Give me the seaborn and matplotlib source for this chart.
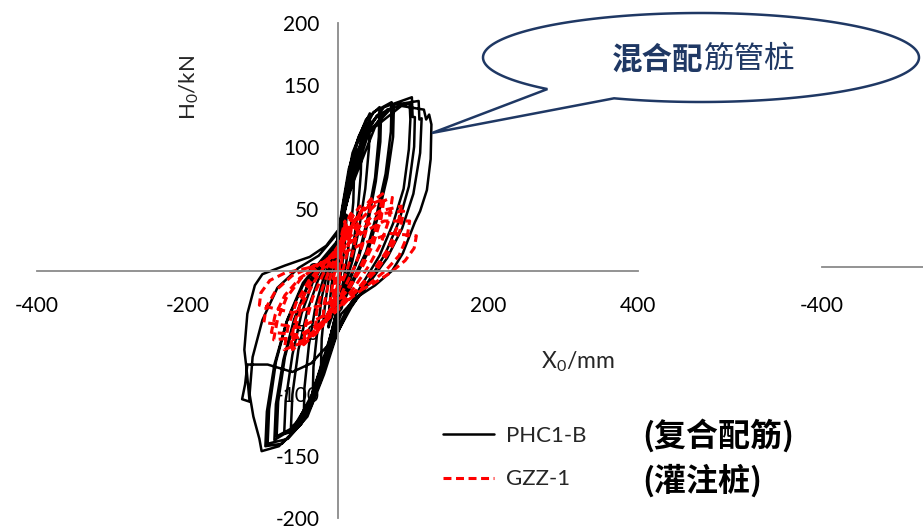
import numpy as np
import matplotlib
matplotlib.use("Agg")
import matplotlib.pyplot as plt
import seaborn as sns
from matplotlib.path import Path
from matplotlib.patches import PathPatch
from matplotlib.lines import Line2D

# ---- hysteresis records: lateral displacement X0 (mm) and lateral load H0 (kN) ----
# PHC1-B (hybrid-reinforced pipe pile), one line per loading cycle
phc_x = [
    0, 4, 8, 12, 11, 8, 5, 2, -2, -6, -10, -12, -11, -8, -5, -2, 2,
    8, 15, 22, 21, 17, 12, 8, 2, -5, -12, -18, -22, -21, -17, -12, -7, 0,
    6, 14, 22, 32, 31, 27, 21, 14, 8, 0, -8, -18, -26, -33, -32, -27, -21, -14, -6, 0,
    6, 15, 28, 43, 42, 37, 29, 20, 10, 0, -10, -22, -34, -45, -44, -38, -29, -18, -8, 0,
    8, 20, 38, 56, 55, 50, 40, 28, 14, 0, -12, -28, -44, -58, -71, -69, -60, -48, -32, -15, 0,
    10, 24, 42, 58, 57, 51, 41, 29, 15, 0, -13, -30, -46, -62, -60, -52, -40, -26, -12, 0,
    10, 26, 48, 72, 71, 64, 52, 38, 20, 2, -14, -34, -56, -81, -79, -70, -56, -38, -18, 0,
    12, 30, 52, 75, 74, 66, 54, 40, 22, 4, -14, -36, -60, -84, -82, -72, -58, -40, -20, 0,
    12, 34, 62, 99, 100, 103, 102, 95, 82, 64, 42, 18, 0, -18, -40, -66, -93, -91, -82, -67, -46, -22, 0,
    14, 38, 66, 96, 97, 95, 88, 74, 56, 34, 12, -6, -24, -48, -74, -96, -94, -84, -68, -46, -22, 0,
    16, 42, 76, 108, 109, 112, 110, 101, 86, 66, 40, 14, -4, -24, -50, -78, -101, -104, -112, -117, -113,
    -100, -80, -52, -25, 0,
    20, 50, 85, 115, 118, 122, 125, 124, 119, 110, 103, 87, 73, 50, 25, 5, -12, -35, -60, -93, -120,
    -123, -127, -117, -121, -124, -120, -110, -100, -70, -37, -15, 0,
]
phc_y = [
    0, 18, 32, 45, 30, 12, 0, -12, -25, -35, -42, -46, -30, -12, 0, 10, 22,
    45, 62, 76, 55, 30, 8, -8, -25, -45, -62, -72, -78, -55, -30, -8, 5, 22,
    45, 70, 88, 101, 78, 48, 20, 0, -15, -32, -55, -78, -92, -101, -78, -50, -22, -3, 12, 25,
    50, 82, 108, 127, 100, 66, 35, 8, -12, -30, -58, -88, -108, -121, -95, -60, -28, -5, 10, 25,
    55, 95, 122, 132, 108, 75, 42, 12, -10, -30, -60, -95, -118, -130, -132, -105, -68, -35, -8, 8, 22,
    52, 92, 118, 127, 104, 72, 40, 12, -10, -30, -62, -98, -118, -127, -100, -64, -32, -8, 8, 22,
    60, 102, 128, 136, 112, 78, 45, 15, -8, -30, -62, -100, -126, -134, -106, -70, -38, -10, 8, 22,
    56, 100, 125, 132, 108, 75, 44, 14, -8, -30, -64, -104, -128, -137, -108, -72, -40, -12, 6, 22,
    62, 110, 132, 140, 124, 124, 100, 68, 40, 14, -8, -30, -50, -84, -118, -136, -140, -112, -74, -40, -10, 8, 24,
    60, 108, 130, 135, 122, 98, 66, 38, 12, -10, -32, -54, -90, -124, -140, -142, -114, -76, -42, -12, 6, 22,
    64, 112, 134, 137, 122, 123, 95, 62, 34, 10, -12, -32, -56, -92, -125, -142, -146, -136, -118, -100, -70,
    -40, -14, 2, 12, 30,
    70, 116, 133, 130, 122, 126, 118, 90, 65, 48, 39, 14, 0, -12, -22, -35, -60, -75, -82, -76, -76,
    -92, -104, -106, -80, -64, -35, -12, -3, 4, 11, 20, 32,
]

# GZZ-1 (cast-in-place bored pile), one line per loading cycle
gzz_x = [
    0, 3, 6, 5, 2, -1, -4, -6, -5, -2, 2,
    6, 10, 9, 5, 0, -6, -10, -9, -5, 0,
    8, 16, 20, 18, 12, 5, -4, -14, -20, -18, -12, -4, 6,
    18, 30, 28, 20, 10, -4, -18, -30, -28, -20, -10, 4,
    20, 34, 45, 42, 33, 22, 6, -12, -28, -45, -42, -33, -20, -4,
    15, 32, 47, 60, 56, 46, 32, 14, -8, -28, -46, -60, -56, -46, -30, -10,
    12, 30, 46, 62, 58, 48, 34, 16, -6, -26, -44, -62, -58, -48, -32, -12,
    10, 32, 52, 73, 69, 58, 42, 22, 0, -22, -46, -71, -66, -55, -38, -16,
    6, 30, 56, 85, 80, 68, 50, 28, 4, -22, -52, -85, -80, -68, -48, -22,
    8, 34, 60, 88, 83, 70, 52, 30, 6, -20, -50, -88, -83, -70, -50, -24,
    4, 32, 62, 96, 93, 82, 64, 40, 14, -16, -50, -98, -95, -82, -60, -30,
    0, 35, 70, 105, 102, 90, 70, 44, 14, -20, -60, -104, -102, -90, -70, -40, -10,
]
gzz_y = [
    0, 15, 28, 15, 0, -12, -24, -28, -14, 0, 14,
    30, 40, 25, 5, -12, -28, -38, -22, -5, 10,
    32, 44, 48, 32, 12, -5, -22, -38, -45, -28, -10, 6, 24,
    42, 52, 36, 14, -4, -24, -42, -52, -34, -14, 2, 18,
    38, 50, 58, 42, 20, 2, -18, -36, -50, -60, -42, -22, -4, 14,
    32, 48, 56, 62, 45, 24, 5, -14, -32, -48, -58, -64, -46, -26, -8, 10,
    30, 46, 54, 58, 42, 22, 4, -14, -30, -46, -56, -60, -44, -24, -6, 10,
    25, 42, 54, 59, 42, 22, 4, -14, -30, -46, -58, -64, -46, -26, -8, 8,
    20, 36, 48, 52, 36, 18, 2, -14, -30, -44, -54, -56, -40, -22, -6, 6,
    18, 34, 46, 48, 32, 16, 0, -14, -28, -42, -52, -50, -36, -20, -6, 4,
    16, 30, 40, 40, 28, 12, 0, -12, -24, -36, -46, -42, -30, -16, -4, 4,
    12, 22, 30, 28, 18, 8, -2, -12, -20, -28, -34, -28, -18, -8, -2, 2, 8,
]

x_ticks = [-400, -200, 0, 200, 400]
x_tick_labels = ["-400", "-200", "0", "200", "400"]
y_ticks = [-200, -150, -100, -50, 0, 50, 100, 150, 200]
y_tick_labels = ["-200", "-150", "-100", "-50", "0", "50", "100", "150", "200"]

series_names = ["PHC1-B", "GZZ-1"]
series_notes = ["(复合配筋)", "(灌注桩)"]
callout_bold = "混合配"
callout_plain = "筋管桩"

# ---- style ----
sns.set_theme(style="white")
plt.rcParams["font.family"] = ["Lato", "Noto Sans CJK SC", "DejaVu Sans"]
plt.rcParams["axes.unicode_minus"] = False
plt.rcParams["mathtext.fontset"] = "custom"
plt.rcParams["mathtext.rm"] = "Lato"

AXIS_GREY = "#8a8a8a"
NAVY = "#1f3864"
RED_DASH = (0, (2.6, 1.5))
BLACK_LW = 1.8
RED_LW = 2.2

W, H = 923, 530
fig = plt.figure(figsize=(W / 100, H / 100), dpi=100)
fig.patch.set_facecolor("white")


def fx(px):
    return px / W


def fy(py):
    return 1 - py / H


ax = fig.add_axes([fx(37), fy(518), 601 / W, 495 / H])
ax.set_facecolor("none")

sns.lineplot(x=phc_x, y=phc_y, sort=False, estimator=None, color="black",
             lw=BLACK_LW, ax=ax, legend=False)
sns.lineplot(x=gzz_x, y=gzz_y, sort=False, estimator=None, color="#ff0000",
             lw=RED_LW, linestyle=RED_DASH, ax=ax, legend=False)

ax.set_xlim(-400, 400)
ax.set_ylim(-200, 200)
ax.set_xticks(x_ticks)
ax.set_xticklabels(x_tick_labels)
ax.set_yticks(y_ticks)
ax.set_yticklabels(y_tick_labels)
ax.set_xlabel("")
ax.set_ylabel("")

for side in ("top", "right"):
    ax.spines[side].set_visible(False)
for side in ("left", "bottom"):
    ax.spines[side].set_position(("data", 0))
    ax.spines[side].set_color(AXIS_GREY)
    ax.spines[side].set_linewidth(1.3)

ax.tick_params(direction="in", length=7, width=1.2, color=AXIS_GREY,
               labelsize=15, labelcolor="black")
ax.tick_params(axis="x", pad=18)
ax.tick_params(axis="y", pad=13)
ax.grid(False)

ax.text(0.253, 0.869, r"H$_\mathregular{0}$/kN", rotation=90, transform=ax.transAxes,
        ha="center", va="center", fontsize=16)
ax.text(0.900, 0.316, r"X$_\mathregular{0}$/mm", transform=ax.transAxes,
        ha="center", va="center", fontsize=16.5)

# legend
handles = [Line2D([], [], color="black", lw=BLACK_LW),
           Line2D([], [], color="#ff0000", lw=RED_LW, linestyle=RED_DASH)]
leg = fig.legend(handles, series_names, loc="upper left",
                 bbox_to_anchor=(fx(443), fy(426)), frameon=False,
                 fontsize=16, handlelength=2.3, handletextpad=0.55,
                 labelspacing=1.05, borderpad=0, borderaxespad=0)

for note, py in zip(series_notes, (436, 481)):
    fig.text(fx(642), fy(py), note, fontsize=23, fontweight="bold", va="center",
             ha="left", family=["Noto Sans CJK SC", "DejaVu Sans"], color="black")

# neighbouring panel's axis at the right edge
ax2 = fig.add_axes([fx(822), fy(518) + 3.5 / H, 601 / W, 495 / H])
ax2.set_facecolor("none")
ax2.set_xlim(-400, 400)
ax2.set_ylim(-200, 200)
ax2.set_xticks(x_ticks[:1])
ax2.set_xticklabels(x_tick_labels[:1])
ax2.set_yticks([])
for side in ("top", "right", "left"):
    ax2.spines[side].set_visible(False)
ax2.spines["bottom"].set_position(("data", 0))
ax2.spines["bottom"].set_color(AXIS_GREY)
ax2.spines["bottom"].set_linewidth(1.3)
ax2.tick_params(axis="x", direction="in", length=9, width=1.2, color=AXIS_GREY,
                labelsize=15, labelcolor="black", pad=21)

# speech-bubble callout pointing at the PHC1-B loops
cx, cy, a, b = 701.0, 57.5, 218.0, 44.5
t = np.radians(np.linspace(246.5, 585.2, 200))
bx = cx + a * np.cos(t)
by = (H - cy) + b * np.sin(t)
verts = [(x / W, y / H) for x, y in zip(bx, by)]
verts.append((432 / W, (H - 133) / H))
verts.append(verts[0])
codes = [Path.MOVETO] + [Path.LINETO] * (len(verts) - 2) + [Path.CLOSEPOLY]
bubble = PathPatch(Path(verts, codes), facecolor="white", edgecolor=NAVY,
                   lw=1.8, transform=fig.transFigure, zorder=5)
fig.add_artist(bubble)

fig.text(fx(703), fy(59), callout_bold, fontsize=22, fontweight="bold", color=NAVY,
         ha="right", va="center", family=["Noto Sans CJK SC"], zorder=6)
fig.text(fx(703), fy(59), callout_plain, fontsize=22, color=NAVY,
         ha="left", va="center", family=["Noto Sans CJK SC"], zorder=6)

fig.savefig("out.png", dpi=100, facecolor="white")
